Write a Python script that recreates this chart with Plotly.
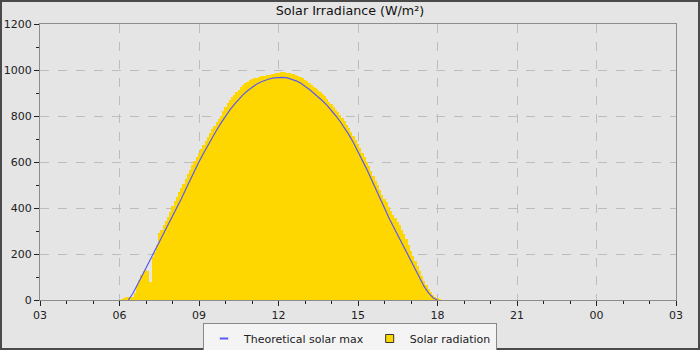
import pandas as pd
import plotly.graph_objects as go

# ---- data ----
radiation_start = "2024-06-15 06:00"   # 5-minute samples
radiation_wm2 = [
    0, 3, 5, 12, 13, 13, 14, 30, 65, 85, 108, 126,              # 06
    132, 128, 78, 185, 210, 240, 292, 305, 325, 342, 362, 382,  # 07
    410, 432, 448, 468, 486, 506, 526, 546, 566, 585, 604, 623, # 08
    641, 658, 676, 693, 710, 726, 742, 757, 772, 787, 802, 820, # 09
    840, 855, 868, 881, 893, 904, 915, 925, 934, 942, 949, 955, # 10
    960, 964, 967, 970, 972, 974, 976, 978, 980, 982, 984, 986, # 11
    988, 990, 990, 990, 989, 987, 984, 981, 978, 975, 971, 965, # 12
    958, 951, 944, 936, 928, 920, 912, 903, 894, 885, 874, 863, # 13
    852, 840, 828, 818, 806, 792, 778, 763, 748, 731, 714, 696, # 14
    678, 659, 640, 621, 601, 581, 561, 540, 519, 498, 478, 458, # 15
    440, 424, 406, 388, 370, 355, 340, 324, 306, 286, 264, 240, # 16
    214, 190, 168, 146, 124, 103, 84, 66, 50, 35, 22, 12,       # 17
    6, 2,                                                       # 18
]

theoretical_start = "2024-06-15 06:20"  # 10-minute samples
theoretical_wm2 = [
    0, 28, 64, 101,
    138, 175, 212, 249, 286, 323,
    360, 400, 440, 481, 522, 562,
    601, 637, 672, 706, 739, 770,
    800, 827, 851, 873, 893, 910,
    925, 938, 948, 956, 962, 966,
    968, 968, 966, 961, 953, 943,
    930, 915, 899, 883, 865, 846,
    825, 800, 775, 747, 717, 683,
    646, 608, 568, 526, 482, 438,
    396, 358, 320, 282, 244, 207,
    170, 132, 94, 58, 30, 10,
    0,
]

x_range = ["2024-06-15 03:00", "2024-06-16 03:00"]
y_range = [0, 1200]
title_text = "Solar Irradiance (W/m²)"
line_name = "Theoretical solar max"
bar_name = "Solar radiation"

rad_times = pd.date_range(radiation_start, periods=len(radiation_wm2), freq="5min")
th_times = pd.date_range(theoretical_start, periods=len(theoretical_wm2), freq="10min")

GOLD = "#FFD700"
BLUE = "#5a5af5"
BG = "#e5e5e5"
FONT = "DejaVu Sans"

fig = go.Figure()
fig.add_trace(go.Bar(
    x=rad_times, y=radiation_wm2, width=300000,
    marker=dict(color=GOLD, line=dict(width=0)),
    showlegend=False, name=bar_name,
))
fig.add_trace(go.Scatter(
    x=th_times, y=theoretical_wm2, mode="lines",
    line=dict(color=BLUE, width=1.2),
    showlegend=False, name=line_name,
))
# legend-only entries (no data drawn)
fig.add_trace(go.Scatter(
    x=[None], y=[None], mode="markers", name=line_name,
    marker=dict(symbol="line-ew", size=6, color=BLUE, line=dict(color=BLUE, width=2)),
))
fig.add_trace(go.Scatter(
    x=[None], y=[None], mode="markers", name=bar_name,
    marker=dict(symbol="square", size=8, color=GOLD, line=dict(color="#333333", width=1)),
))

W, H = 700, 350
ml, mr, mt, mb = 40, 24, 24, 50
pw, ph = W - ml - mr, H - mt - mb

fig.update_layout(
    width=W, height=H,
    margin=dict(l=ml, r=mr, t=mt, b=mb, pad=0, autoexpand=False),
    paper_bgcolor=BG, plot_bgcolor=BG,
    font=dict(family=FONT, size=11, color="#222222"),
    bargap=0,
    title=dict(text=title_text, x=0.5, xanchor="center", y=1 - 11 / H, yanchor="middle",
               font=dict(family=FONT, size=12.7, color="#111111")),
    legend=dict(orientation="h", xref="container", x=0.5, xanchor="center",
                yref="container", y=1 - 323 / H, yanchor="top",
                bgcolor="#f4f4f4", bordercolor="#888888", borderwidth=1,
                font=dict(family=FONT, size=11, color="#222222"),
                itemwidth=30, traceorder="normal"),
    xaxis=dict(
        type="date", range=x_range, tickformat="%H", automargin=False,
        dtick=3 * 3600000, tick0="2024-06-15 03:00",
        showgrid=True, gridcolor="#bdbdbd", griddash="dash", gridwidth=1,
        showline=True, linecolor="#8c8c8c", linewidth=1, mirror=True,
        ticks="outside", ticklen=5, tickcolor="#222222", tickwidth=1,
        minor=dict(dtick=3600000, ticks="outside", ticklen=3, tickcolor="#222222", showgrid=False),
        zeroline=False, tickangle=0,
    ),
    yaxis=dict(
        range=y_range, dtick=200, automargin=False,
        showgrid=True, gridcolor="#bdbdbd", griddash="dash", gridwidth=1,
        showline=True, linecolor="#8c8c8c", linewidth=1, mirror=True,
        ticks="outside", ticklen=5, tickcolor="#222222", tickwidth=1,
        minor=dict(dtick=100, ticks="outside", ticklen=3, tickcolor="#222222", showgrid=False),
        zeroline=False,
    ),
    shapes=[dict(
        type="rect", xref="paper", yref="paper",
        x0=-ml / pw, x1=(W - ml) / pw, y0=-mb / ph, y1=(H - mb) / ph,
        line=dict(color="#4a4a4a", width=4), fillcolor="rgba(0,0,0,0)", layer="above",
    )],
)

fig.write_html("out.html")
